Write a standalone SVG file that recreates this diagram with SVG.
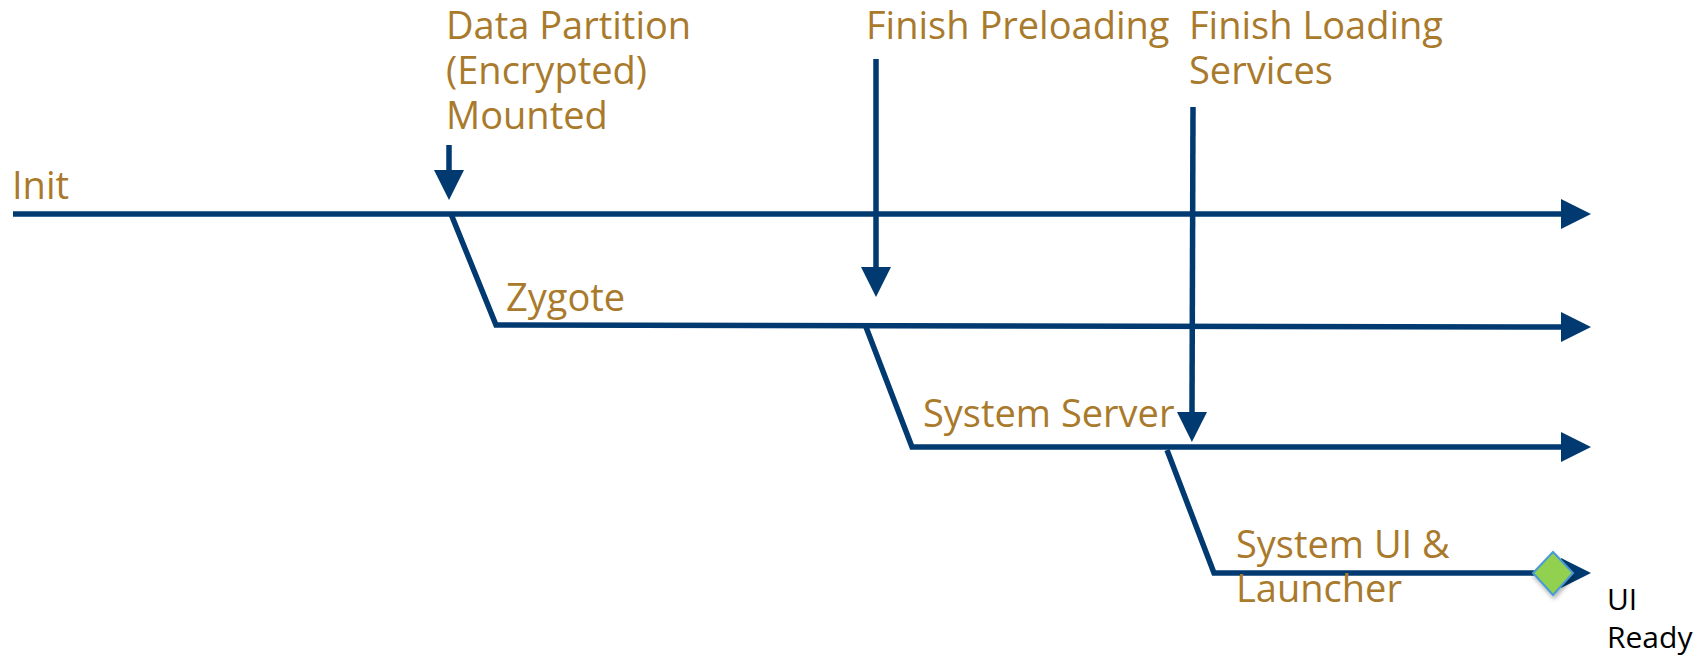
<svg xmlns="http://www.w3.org/2000/svg" width="1700" height="657" viewBox="0 0 1700 657">
  <defs>
    <style>
      .lbl { font-family: "Open Sans", "Noto Sans", sans-serif; font-size: 38px; fill: #A97A2C; }
      .note { font-family: "Open Sans", "Noto Sans", sans-serif; font-size: 30px; fill: #000000; }
      .track { fill: none; stroke: #003A70; stroke-width: 5.5; stroke-linejoin: miter; }
      .event { fill: none; stroke: #003A70; stroke-width: 5.5; }
    </style>
    <marker id="head" markerUnits="userSpaceOnUse" markerWidth="30" markerHeight="30" viewBox="0 0 30 30" refX="1" refY="15" orient="auto">
      <path d="M0,0 L30,15 L0,30 Z" fill="#003A70"/>
    </marker>
    <filter id="shadow" x="-50%" y="-50%" width="200%" height="200%">
      <feDropShadow dx="1" dy="3" stdDeviation="2" flood-color="#000" flood-opacity="0.3"/>
    </filter>
  </defs>

  <!-- process timelines -->
  <g id="connectors">
    <path class="track" d="M13,214 L1562,214" marker-end="url(#head)"/>
    <path class="track" d="M451,214 L496,325 L1562,327" marker-end="url(#head)"/>
    <path class="track" d="M866,327 L912,447 L1562,447" marker-end="url(#head)"/>
    <path class="track" d="M1167,450 L1214,573 L1562,573" marker-end="url(#head)"/>

    <!-- milestone arrows -->
    <path class="event" d="M449,145 L449,171" marker-end="url(#head)"/>
    <path class="event" d="M876,59 L876,268" marker-end="url(#head)"/>
    <path class="event" d="M1193,107 L1192,413" marker-end="url(#head)"/>
  </g>

  <g id="init">
    <text class="lbl" x="12" y="199">Init</text>
  </g>
  <g id="zygote">
    <text class="lbl" x="506" y="311">Zygote</text>
  </g>
  <g id="system-server">
    <text class="lbl" x="923" y="427">System Server</text>
  </g>
  <g id="system-ui">
    <text class="lbl" x="1236" y="558">System UI &amp;</text>
    <text class="lbl" x="1236" y="602">Launcher</text>
  </g>
  <g id="data-partition">
    <text class="lbl" x="446" y="39">Data Partition</text>
    <text class="lbl" x="446" y="84">(Encrypted)</text>
    <text class="lbl" x="446" y="129">Mounted</text>
  </g>
  <g id="finish-preloading">
    <text class="lbl" x="866" y="39">Finish Preloading</text>
  </g>
  <g id="finish-loading">
    <text class="lbl" x="1189" y="39">Finish Loading</text>
    <text class="lbl" x="1189" y="84">Services</text>
  </g>
  <g id="ui-ready">
    <path d="M1553,552 L1573,573 L1553,595 L1533,573 Z" fill="#92D050" stroke="#4A9AD4" stroke-width="2" filter="url(#shadow)"/>
    <text class="note" x="1607" y="610">UI</text>
    <text class="note" x="1607" y="648">Ready</text>
  </g>
</svg>
